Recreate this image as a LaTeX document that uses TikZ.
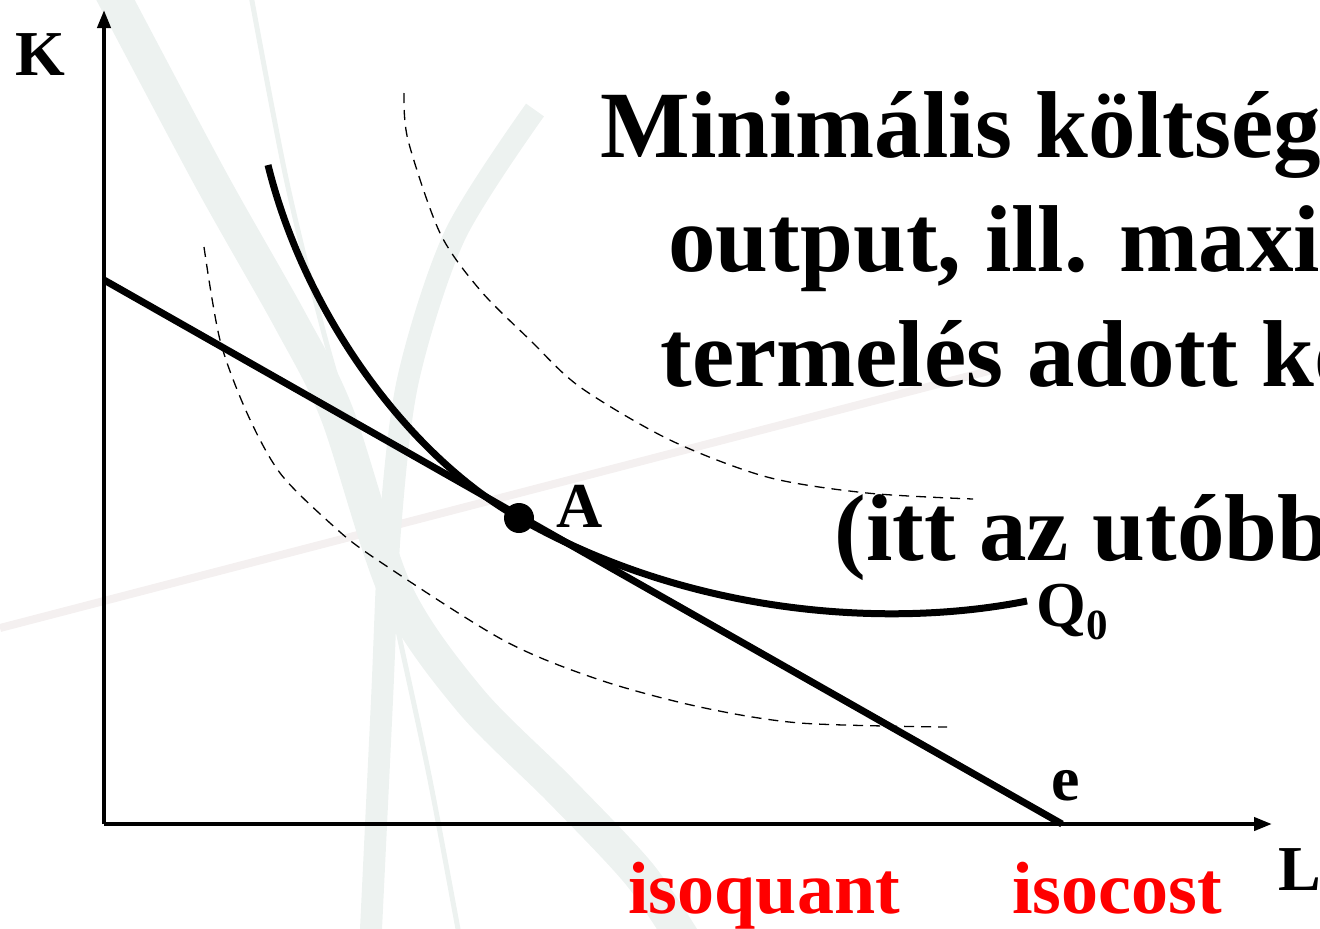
\documentclass[tikz,border=0pt]{standalone}
\usepackage{fontspec}
\setmainfont{Liberation Serif}
\usetikzlibrary{arrows.meta}

\definecolor{wmark}{RGB}{237,242,240}
\definecolor{wline}{RGB}{244,240,240}

\begin{document}
\begin{tikzpicture}[x=0.5pt,y=-0.5pt,
  axis/.style={line width=2pt,-{Triangle[length=9pt,width=6.5pt]}},
  curve/.style={line width=3.5pt},
  level/.style={line width=0.65pt,dash pattern=on 5pt off 3.5pt},
  lbl/.style={inner sep=0pt,anchor=base west,font=\fontsize{32}{36}\selectfont\bfseries},
  ttl/.style={inner sep=0pt,anchor=base west,font=\fontsize{47.5}{56}\selectfont\bfseries},
  redlbl/.style={lbl,text=red,font=\fontsize{37}{40}\selectfont\bfseries}]
\useasboundingbox (0,0) rectangle (1320,928);
\clip (0,0) rectangle (1320,928);

% Watermark
\draw[wline,line width=4pt] (0,628) -- (1000,368);
\draw[wmark,line width=17pt] plot[smooth] coordinates
  {(105,-20) (210,178) (290,320) (337,414) (396,592) (470,700) (560,790) (640,875) (690,950)};
\draw[wmark,line width=11pt] plot[smooth] coordinates
  {(535,110) (455,235) (408,380) (390,530) (382,700) (370,950)};
\draw[wmark,line width=2.5pt] plot[smooth] coordinates
  {(250,-10) (286,178) (323,330) (365,480) (400,640) (430,780) (460,940)};

% Axes
\coordinate (O) at (104,824);
\coordinate (ktop) at (104,10);
\coordinate (lend) at (1272,824);
\draw[axis] (O) -- (ktop);
\draw[axis] (O) -- (lend);
\node[lbl] (klabel) at (15,75) {K};
\node[lbl] (llabel) at (1278,890) {L};

% Isoquants
\draw[level] plot[smooth] coordinates
  {(404,93) (408,140) (440,233) (480,290) (530,340) (580,387) (670,440) (767,477) (867,493) (973,499)};
\draw[level] plot[smooth] coordinates
  {(204,247) (220,340) (247,413) (280,473) (330,523) (373,557) (503,640) (600,680) (700,707) (800,723) (947,727)};
\coordinate (q0) at (268,165);
\coordinate (A) at (519,518);
\coordinate (q1) at (1027,601);
\draw[curve] (q0) .. controls (305,315) and (409,456) .. (A)
  .. controls (689,615) and (887,629) .. (q1);
\node[lbl] (qlabel) at (1036,626) {Q\raisebox{-6.5pt}{\fontsize{21.5}{22}\selectfont 0}};

% Isocost
\coordinate (c0) at (104,280);
\coordinate (e) at (1062,824);
\draw[curve] (c0) -- (e);
\node[lbl] (elabel) at (1051,800) {e};

% Optimum
\fill (A) circle (7.5pt);
\node[lbl] (alabel) at (556,527) {A};

% Title
\node[ttl] (t1) at (600,157) {Minimális költség};
\node[ttl] (t2) at (668,271) {output, ill. maxi};
\node[ttl] (t3) at (660,386) {termelés adott kö};
\node[ttl] (t4) at (834,560) {(itt az utóbb};

\node[redlbl] (iq) at (628,913) {isoquant};
\node[redlbl] (ic) at (1012,913) {isocost};
\end{tikzpicture}
\end{document}
